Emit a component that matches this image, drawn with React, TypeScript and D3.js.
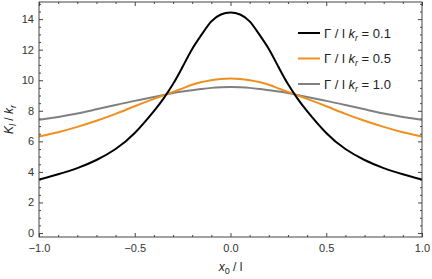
import React, { useEffect, useRef } from 'react';
import * as d3 from 'd3';

// --- data ---
const xPositions = [-1, -0.9, -0.8, -0.7, -0.6, -0.5, -0.4, -0.35, -0.3, -0.25, -0.2, -0.15, -0.1, -0.05, 0,
  0.05, 0.1, 0.15, 0.2, 0.25, 0.3, 0.35, 0.4, 0.5, 0.6, 0.7, 0.8, 0.9, 1];
const gamma01 = [3.5, 3.85, 4.25, 4.78, 5.5, 6.55, 7.98, 8.8, 9.75, 10.88, 12.05, 13.0, 13.85, 14.3, 14.43,
  14.3, 13.85, 13.0, 12.05, 10.88, 9.75, 8.8, 7.98, 6.55, 5.5, 4.78, 4.25, 3.85, 3.5];
const gamma05 = [6.32, 6.6, 6.95, 7.35, 7.8, 8.3, 8.78, 9.01, 9.24, 9.47, 9.7, 9.88, 10.0, 10.08, 10.11,
  10.08, 10.0, 9.88, 9.7, 9.47, 9.24, 9.01, 8.78, 8.3, 7.8, 7.35, 6.95, 6.6, 6.32];
const gamma10 = [7.41, 7.6, 7.82, 8.1, 8.38, 8.65, 8.9, 9.03, 9.16, 9.26, 9.35, 9.43, 9.5, 9.54, 9.55,
  9.54, 9.5, 9.43, 9.35, 9.26, 9.16, 9.03, 8.9, 8.65, 8.38, 8.1, 7.82, 7.6, 7.41];
const seriesLabels = ['0.1', '0.5', '1.0'];
const seriesColors = ['#000000', '#EE8F1E', '#808080'];
const xMajorTicks = [-1, -0.5, 0, 0.5, 1];
const yMajorTicks = [0, 2, 4, 6, 8, 10, 12, 14];

const W = 432;
const H = 279;

const App = () => {
  const ref = useRef<SVGSVGElement | null>(null);

  useEffect(() => {
    const svg = d3.select(ref.current);
    svg.selectAll('*').remove();

    const margin = { top: 2, right: 10, bottom: 42, left: 39 };
    const x = d3.scaleLinear().domain([-1, 1]).range([margin.left, W - margin.right]);
    const y = d3.scaleLinear().domain([-0.26, 15.12]).range([H - margin.bottom, margin.top]);

    const frameColor = '#444';
    const font = 'Liberation Sans, Arial, sans-serif';

    const xMinor = d3.range(-10, 11).map(i => i / 10).filter(v => !xMajorTicks.includes(v));
    const yMinor = d3.range(0, 31).map(i => i / 2).filter(v => !yMajorTicks.includes(v));

    const styleAxis = (g) => {
      g.select('.domain').remove();
      g.selectAll('line').attr('stroke', frameColor);
      g.selectAll('text').attr('fill', '#333').style('font-family', font).style('font-size', '11px');
    };

    // bottom
    svg.append('g').attr('transform', `translate(0,${H - margin.bottom})`)
      .call(d3.axisBottom(x).tickValues(xMajorTicks).tickSize(-4).tickPadding(7).tickFormat(d3.format('.1f')))
      .call(styleAxis);
    svg.append('g').attr('transform', `translate(0,${H - margin.bottom})`)
      .call(d3.axisBottom(x).tickValues(xMinor).tickSize(-2).tickFormat(() => ''))
      .call(styleAxis);
    // top
    svg.append('g').attr('transform', `translate(0,${margin.top})`)
      .call(d3.axisTop(x).tickValues(xMajorTicks).tickSize(-4).tickFormat(() => ''))
      .call(styleAxis);
    svg.append('g').attr('transform', `translate(0,${margin.top})`)
      .call(d3.axisTop(x).tickValues(xMinor).tickSize(-2).tickFormat(() => ''))
      .call(styleAxis);
    // left
    svg.append('g').attr('transform', `translate(${margin.left},0)`)
      .call(d3.axisLeft(y).tickValues(yMajorTicks).tickSize(-4).tickPadding(5).tickFormat(d3.format('d')))
      .call(styleAxis);
    svg.append('g').attr('transform', `translate(${margin.left},0)`)
      .call(d3.axisLeft(y).tickValues(yMinor).tickSize(-2).tickFormat(() => ''))
      .call(styleAxis);
    // right
    svg.append('g').attr('transform', `translate(${W - margin.right},0)`)
      .call(d3.axisRight(y).tickValues(yMajorTicks).tickSize(-4).tickFormat(() => ''))
      .call(styleAxis);
    svg.append('g').attr('transform', `translate(${W - margin.right},0)`)
      .call(d3.axisRight(y).tickValues(yMinor).tickSize(-2).tickFormat(() => ''))
      .call(styleAxis);

    // curves
    const allSeries = [gamma01, gamma05, gamma10];
    const line = d3.line<number>()
      .x((d, i) => x(xPositions[i]))
      .y(d => y(d))
      .curve(d3.curveNatural);

    const plot = svg.append('g');
    plot.append('clipPath').attr('id', 'clip').append('rect')
      .attr('x', margin.left).attr('y', margin.top)
      .attr('width', W - margin.left - margin.right).attr('height', H - margin.top - margin.bottom);
    allSeries.slice().reverse().forEach((vals, j) => {
      const k = allSeries.length - 1 - j;
      plot.append('path').attr('d', line(vals)).attr('fill', 'none')
        .attr('stroke', seriesColors[k]).attr('stroke-width', 2)
        .attr('clip-path', 'url(#clip)');
    });

    // frame
    svg.append('rect')
      .attr('x', margin.left).attr('y', margin.top)
      .attr('width', W - margin.left - margin.right).attr('height', H - margin.top - margin.bottom)
      .attr('fill', 'none').attr('stroke', frameColor).attr('stroke-width', 1);

    // legend
    const legend = svg.append('g').attr('transform', 'translate(298,33)');
    seriesLabels.forEach((lab, i) => {
      const row = legend.append('g').attr('transform', `translate(0,${i * 25.5})`);
      row.append('line').attr('x1', 0).attr('x2', 22).attr('y1', 0).attr('y2', 0)
        .attr('stroke', seriesColors[i]).attr('stroke-width', 2);
      const t = row.append('text').attr('x', 26).attr('y', 4.5)
        .style('font-family', font).style('font-size', '13px').attr('fill', '#222');
      t.append('tspan').text('Γ / l ');
      t.append('tspan').style('font-style', 'italic').text('k');
      t.append('tspan').attr('dy', 3).style('font-size', '9px').style('font-style', 'italic').text('r');
      t.append('tspan').attr('dy', -3).text(` = ${lab}`);
    });

    // axis titles
    const xt = svg.append('text').attr('x', x(0)).attr('y', 271).attr('text-anchor', 'middle')
      .style('font-family', font).style('font-size', '12px').attr('fill', '#222');
    xt.append('tspan').style('font-style', 'italic').text('x');
    xt.append('tspan').attr('dy', 3).style('font-size', '9px').text('0');
    xt.append('tspan').attr('dy', -3).text(' / l');

    const yt = svg.append('text')
      .attr('transform', `translate(13,${(margin.top + H - margin.bottom) / 2}) rotate(-90)`)
      .attr('text-anchor', 'middle')
      .style('font-family', font).style('font-size', '12px').attr('fill', '#222');
    yt.append('tspan').style('font-style', 'italic').text('K');
    yt.append('tspan').attr('dy', 3).style('font-size', '9px').style('font-style', 'italic').text('l');
    yt.append('tspan').attr('dy', -3).text(' / ');
    yt.append('tspan').style('font-style', 'italic').text('k');
    yt.append('tspan').attr('dy', 3).style('font-size', '9px').style('font-style', 'italic').text('r');
  }, []);

  return (
    <svg ref={ref} width={W} height={H}
      style={{ position: 'absolute', left: 0, top: 0, background: '#fff' }} />
  );
};

export default App;
